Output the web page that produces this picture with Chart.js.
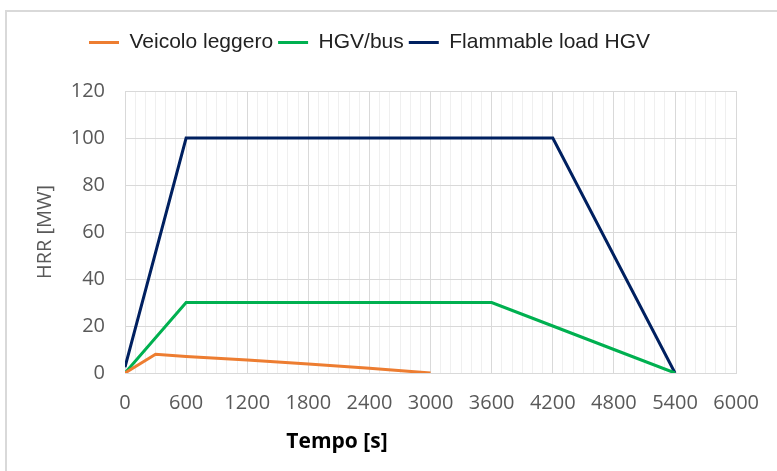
<!DOCTYPE html>
<html>
<head>
<meta charset="utf-8">
<script src="https://cdn.jsdelivr.net/npm/chart.js@4/dist/chart.umd.min.js"></script>
<style>
  html, body { margin: 0; padding: 0; background: #fff; }
  #wrap { position: relative; width: 777px; height: 471px; overflow: hidden; }
  #frame { position: absolute; left: 5px; top: 10px; width: 900px; height: 600px;
           border-left: 2px solid #d9d9d9; border-top: 2px solid #d9d9d9; }
  #my-chart { position: absolute; left: 0; top: 0; }
</style>
</head>
<body>
<div id="wrap">
  <div id="frame"></div>
  <canvas id="my-chart" width="777" height="471"></canvas>
</div>
<script>
// data
const seriesNames = ['Veicolo leggero', 'HGV/bus', 'Flammable load HGV'];
const seriesColors = ['#ED7D31', '#00B050', '#002060'];

const lightTime = [0, 300, 600, 1200, 1800, 2400, 3000];
const lightHrr = [0, 8, 7, 5.5, 3.8, 2, 0];

const hgvTime = [0, 600, 3600, 4200, 4800, 5400];
const hgvHrr = [0, 30, 30, 20, 10, 0];

const flamTime = [0, 600, 4200, 5400];
const flamHrr = [2.5, 100, 100, 0];

const xTitle = 'Tempo [s]';
const yTitle = 'HRR [MW]';

function toPoints(xs, ys) {
  return xs.map((x, i) => ({ x: x, y: ys[i] }));
}

const allSeries = [
  toPoints(lightTime, lightHrr),
  toPoints(hgvTime, hgvHrr),
  toPoints(flamTime, flamHrr)
];

const tickFont = { family: '"Open Sans"', size: 20 };
const greyText = '#595959';

// fix legend height so the plot starts where the original does
const legendHeight = {
  id: 'legendHeight',
  afterInit(chart) {
    const legend = chart.legend;
    const origFit = legend.fit;
    legend.fit = function () {
      origFit.call(this);
      this.height = 64;
    };
  }
};

// x axis title sits left of centre in the original
const xTitlePlugin = {
  id: 'xTitlePlugin',
  afterDraw(chart) {
    const ctx = chart.ctx;
    ctx.save();
    ctx.font = 'bold 21px "Open Sans"';
    ctx.fillStyle = '#000';
    ctx.textAlign = 'center';
    ctx.textBaseline = 'middle';
    ctx.fillText(xTitle, chart.chartArea.left + 212, 442);
    ctx.restore();
  }
};

const ctx = document.getElementById('my-chart').getContext('2d');
const chart = new Chart(ctx, {
  type: 'line',
  data: {
    datasets: allSeries.map((pts, i) => ({
      label: seriesNames[i],
      data: pts,
      borderColor: seriesColors[i],
      backgroundColor: seriesColors[i],
      borderWidth: 3,
      pointRadius: 0,
      tension: 0,
      fill: false
    }))
  },
  options: {
    responsive: false,
    animation: false,
    layout: { padding: { left: 0, right: 38, top: 27, bottom: 0 } },
    plugins: {
      tooltip: { enabled: false },
      legend: {
        position: 'top',
        labels: {
          boxWidth: 30,
          boxHeight: 3,
          padding: 5,
          color: '#222',
          font: { family: '"Liberation Sans"', size: 21 },
          generateLabels(chart) {
            return Chart.defaults.plugins.legend.labels.generateLabels(chart).map(l => {
              l.lineWidth = 0;
              l.fillStyle = l.strokeStyle;
              return l;
            });
          }
        }
      }
    },
    scales: {
      x: {
        type: 'linear',
        min: 0,
        max: 6000,
        afterFit(scale) { scale.height = 98; },
        ticks: {
          stepSize: 100,
          autoSkip: false,
          maxRotation: 0,
          padding: 18,
          color: greyText,
          font: tickFont,
          callback: v => (v % 600 === 0 ? String(v) : '')
        },
        grid: {
          drawTicks: false,
          color: c => (c.tick && c.tick.value % 600 === 0 ? '#d9d9d9' : '#efefef'),
          lineWidth: 1
        },
        border: { color: '#d9d9d9' }
      },
      y: {
        min: 0,
        max: 120,
        afterFit(scale) { scale.width = 125; },
        ticks: {
          stepSize: 20,
          padding: 20,
          color: greyText,
          font: tickFont
        },
        grid: { drawTicks: false, color: '#d9d9d9' },
        border: { color: '#d9d9d9' },
        title: {
          display: true,
          text: yTitle,
          color: greyText,
          font: { family: '"Open Sans"', size: 20 },
          padding: { top: 33, bottom: 0 }
        }
      }
    }
  },
  plugins: [legendHeight, xTitlePlugin]
});
</script>
</body>
</html>
